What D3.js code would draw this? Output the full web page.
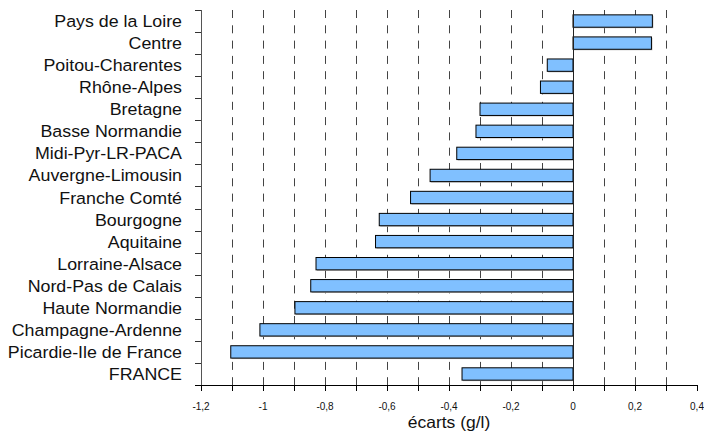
<!DOCTYPE html>
<html><head><meta charset="utf-8">
<script src="https://cdn.jsdelivr.net/npm/d3@7"></script>
<style>body{margin:0;background:#fff;} svg{display:block;}</style>
</head><body>
<svg id="c" width="704" height="432"></svg>
<script>
const categories = ["Pays de la Loire","Centre","Poitou-Charentes","Rhône-Alpes","Bretagne","Basse Normandie","Midi-Pyr-LR-PACA","Auvergne-Limousin","Franche Comté","Bourgogne","Aquitaine","Lorraine-Alsace","Nord-Pas de Calais","Haute Normandie","Champagne-Ardenne","Picardie-Ile de France","FRANCE"];
const values = [0.256,0.253,-0.083,-0.105,-0.300,-0.313,-0.375,-0.461,-0.524,-0.625,-0.637,-0.829,-0.846,-0.897,-1.010,-1.104,-0.358];
const gridValues = [-1.1,-1.0,-0.9,-0.8,-0.7,-0.6,-0.5,-0.4,-0.3,-0.2,-0.1,0.1,0.2,0.3];
const minorTicks = [-1.2,-1.1,-1.0,-0.9,-0.8,-0.7,-0.6,-0.5,-0.4,-0.3,-0.2,-0.1,0,0.1,0.2,0.3,0.4];
const tickLabels = [-1.2,-1.0,-0.8,-0.6,-0.4,-0.2,0,0.2,0.4];
const xTitle = "écarts (g/l)";

(function(){
const svg = d3.select("#c");
const L = 201, R = 697, T = 10, B = 385;
const x = d3.scaleLinear().domain([-1.2,0.4]).range([L,R]);
const y = d3.scaleBand().domain(categories).range([T,B]).paddingInner(0.44).paddingOuter(0.22);
const fmt = v => (Math.abs(v) < 1e-9 ? "0" : String(+v.toFixed(1))).replace(".", ",");

// gridlines
svg.append("g").selectAll("line").data(gridValues).join("line")
  .attr("x1", d => Math.round(x(d)) + 0.5).attr("x2", d => Math.round(x(d)) + 0.5)
  .attr("y1", T).attr("y2", B)
  .attr("stroke", "#444").attr("stroke-width", 1).attr("stroke-dasharray", "8,7.3");

// bars shadow
svg.append("g").selectAll("rect").data(values).join("rect")
  .attr("x", d => x(Math.min(0,d)) + 1)
  .attr("y", (d,i) => y(categories[i]) + 1)
  .attr("width", d => Math.abs(x(d) - x(0)))
  .attr("height", y.bandwidth())
  .attr("fill", "#bbb");
// bars
svg.append("g").selectAll("rect").data(values).join("rect")
  .attr("x", d => x(Math.min(0,d)))
  .attr("y", (d,i) => y(categories[i]))
  .attr("width", d => Math.abs(x(d) - x(0)))
  .attr("height", y.bandwidth())
  .attr("fill", "#80C0FF").attr("stroke", "#000").attr("stroke-width", 1);

// zero line
svg.append("line").attr("x1", Math.round(x(0))+0.5).attr("x2", Math.round(x(0))+0.5)
  .attr("y1", T).attr("y2", B).attr("stroke", "#222").attr("stroke-width", 1);

// y axis
const bounds = d3.range(categories.length + 1).map(i => T + i * (B - T) / categories.length);
svg.append("line").attr("x1", L + 0.5).attr("x2", L + 0.5).attr("y1", T).attr("y2", B)
  .attr("stroke", "#555");
svg.append("g").selectAll("line").data(bounds).join("line")
  .attr("x1", L - 6).attr("x2", L).attr("y1", d => Math.round(d) + 0.5).attr("y2", d => Math.round(d) + 0.5)
  .attr("stroke", "#333");

// category labels
svg.append("g").selectAll("text").data(categories).join("text")
  .attr("transform", d => `translate(182,${y(d) + y.bandwidth()/2 + 6}) scale(1.08,1)`)
  .attr("text-anchor", "end")
  .attr("font-family", "Liberation Sans, Arial, sans-serif")
  .attr("font-size", 16.5).attr("fill", "#111")
  .text(d => d);

// x axis
svg.append("line").attr("x1", L - 6).attr("x2", R).attr("y1", B + 0.5).attr("y2", B + 0.5)
  .attr("stroke", "#000");
svg.append("g").selectAll("line").data(minorTicks).join("line")
  .attr("x1", d => Math.round(x(d)) + 0.5).attr("x2", d => Math.round(x(d)) + 0.5)
  .attr("y1", B).attr("y2", B + 6).attr("stroke", "#000");
svg.append("g").selectAll("text").data(tickLabels).join("text")
  .attr("x", d => x(d)).attr("y", 410)
  .attr("text-anchor", "middle")
  .attr("font-family", "Liberation Sans, Arial, sans-serif")
  .attr("font-size", 10).attr("fill", "#111")
  .text(d => fmt(d));

svg.append("text")
  .attr("transform", `translate(${(L+R)/2},428) scale(1.06,1)`)
  .attr("text-anchor", "middle")
  .attr("font-family", "Liberation Sans, Arial, sans-serif")
  .attr("font-size", 16.5).attr("fill", "#111")
  .text(xTitle);
})();
</script>
</body></html>
